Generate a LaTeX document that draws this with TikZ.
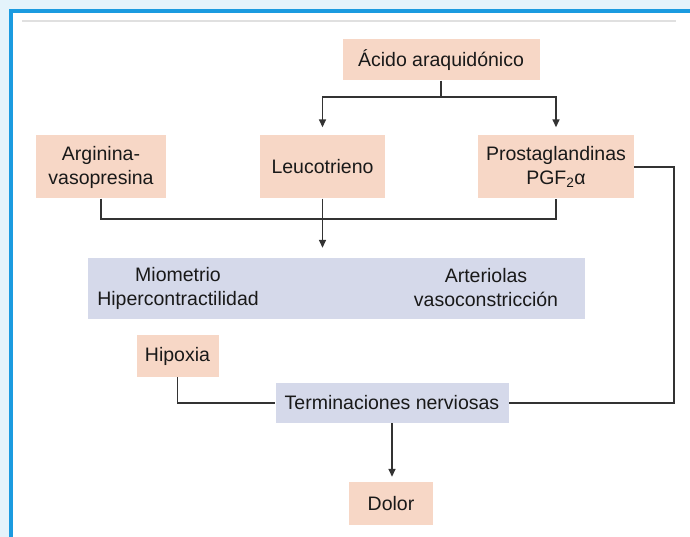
\documentclass[tikz,border=0pt]{standalone}
\usepackage{fontspec}
\setmainfont{Liberation Sans}
\usetikzlibrary{positioning,arrows.meta}
\definecolor{peach}{HTML}{F7D7C6}
\definecolor{lilac}{HTML}{D5D9EA}
\definecolor{frameblue}{HTML}{1B9BE0}
\definecolor{paleblue}{HTML}{E4F3FB}
\definecolor{inkgray}{HTML}{333333}
\tikzset{basic/.style={font=\fontsize{19.5}{24}\selectfont,align=center,inner sep=0pt,text=black!90}}
\tikzset{agent/.style={basic,fill=peach}}
\tikzset{target/.style={basic,fill=lilac}}
\tikzset{link/.style={draw=inkgray,line width=1.5pt}}
\tikzset{flow/.style={link,-{Triangle[length=8pt,width=7pt]}}}

\begin{document}
\begin{tikzpicture}[x=1pt,y=-1pt]
        % frame
        \fill[paleblue] (0,0) rectangle (690,537);
        \useasboundingbox (0,0) rectangle (690,537);
        \fill[white] (11,11) rectangle (690,537);
        \draw[frameblue,line width=4pt] (690,11) -- (11,11) -- (11,537);
        \draw[black!12,line width=1.5pt] (22,21) -- (676,21);
        % boxes
        \node[agent,minimum width=197pt,minimum height=41pt] (acido) at (441,60) {Ácido araquidónico};
        \node[agent,minimum width=130pt,minimum height=63pt] (arginina) at (101,167) {Arginina-\\vasopresina};
        \node[agent,minimum width=125pt,minimum height=63pt] (leuco) at (322.5,167) {Leucotrieno};
        \node[agent,minimum width=156pt,minimum height=63pt] (prosta) at (556,167) {Prostaglandinas\\PGF\textsubscript{2}α};
        \node[target,minimum width=497pt,minimum height=61pt] (respuesta) at (336.5,288.5) {};
            \node[basic] (miometrio) at (178,288) {Miometrio\\Hipercontractilidad};
            \node[basic] (arteriolas) at (486,288) {Arteriolas\\vasoconstricción};
        \node[agent,minimum width=82pt,minimum height=42pt] (hipoxia) at (177.5,356) {Hipoxia};
        \node[target,minimum width=233pt,minimum height=40pt] (nervios) at (392,403) {Terminaciones nerviosas};
        \node[agent,minimum width=84pt,minimum height=43pt] (dolor) at (391,503.5) {Dolor};
        % connectors
        \coordinate (split) at (441,97);
            \path[link] (acido) -- (split);
            \path[flow,shorten >=8pt] (split) -| (leuco);
            \path[flow,shorten >=8pt] (split) -| (prosta);
        \coordinate (join) at (322.5,219);
            \path[link] (arginina) |- (join) -| (prosta);
            \path[flow,shorten >=10pt] (leuco) -- (leuco |- respuesta.north);
        \coordinate (rodeo) at (674,403);
            \path[link] (prosta) -| (rodeo) -- (nervios);
            \path[link] (hipoxia) |- (nervios);
            \path[flow,shorten >=5pt] (nervios) -- (nervios |- dolor.north);
\end{tikzpicture}
\end{document}
